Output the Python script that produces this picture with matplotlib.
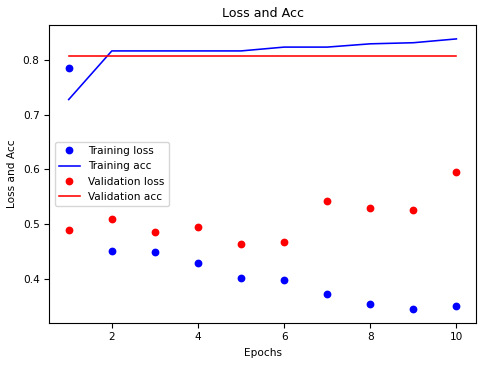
import matplotlib
matplotlib.use("Agg")
import matplotlib.pyplot as plt

epochs = [1, 2, 3, 4, 5, 6, 7, 8, 9, 10]
train_loss = [0.785, 0.451, 0.448, 0.428, 0.402, 0.398, 0.371, 0.354, 0.344, 0.349]
train_acc = [0.728, 0.817, 0.817, 0.817, 0.817, 0.824, 0.824, 0.830, 0.832, 0.839]
val_loss = [0.489, 0.509, 0.486, 0.495, 0.463, 0.468, 0.543, 0.530, 0.526, 0.595]
val_acc = [0.808, 0.808, 0.808, 0.808, 0.808, 0.808, 0.808, 0.808, 0.808, 0.808]

plt.rcParams["font.size"] = 7.6

fig = plt.figure(figsize=(4.86, 3.68), dpi=100)
ax = fig.add_axes([0.1015, 0.123, 0.8775, 0.808])

ax.plot(epochs, train_loss, "bo", markersize=4.6, label="Training loss")
ax.plot(epochs, train_acc, "b", linewidth=1.15, label="Training acc")
ax.plot(epochs, val_loss, "ro", markersize=4.6, label="Validation loss")
ax.plot(epochs, val_acc, "r", linewidth=1.15, label="Validation acc")

ax.set_title("Loss and Acc")
ax.set_xlabel("Epochs")
ax.set_ylabel("Loss and Acc")
ax.legend(loc="center left")

fig.savefig("out.png", dpi=100)
